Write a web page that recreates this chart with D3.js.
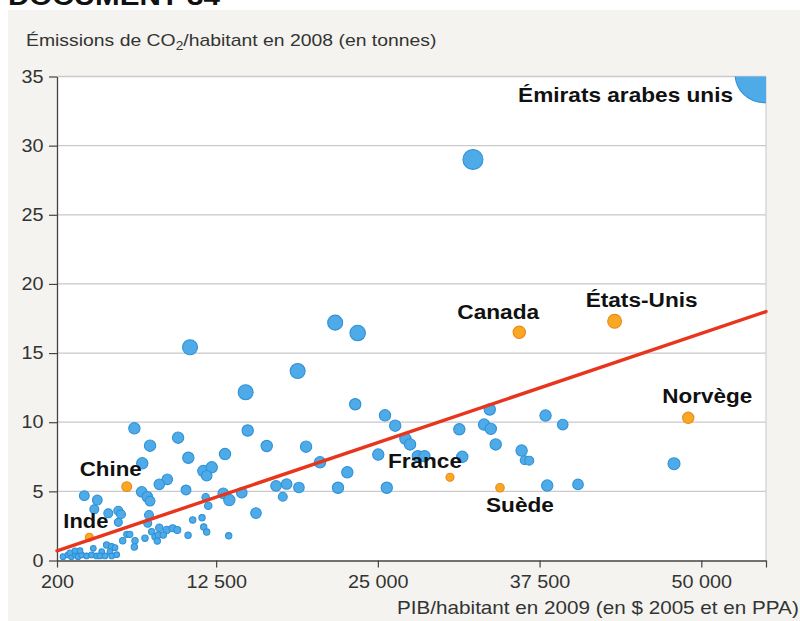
<!DOCTYPE html>
<html><head><meta charset="utf-8">
<script src="https://cdn.jsdelivr.net/npm/d3@7"></script>
<style>
body{margin:0;background:#fff}
svg{display:block}
text{font-family:"Liberation Sans",Arial,Helvetica,sans-serif}
</style>
</head><body>
<svg id="c" width="800" height="621"></svg>
<script>
// ---------- DATA ----------
const titreY = "Émissions de CO";
const titreYSuite = "/habitant en 2008 (en tonnes)";
const titreX = "PIB/habitant en 2009 (en $ 2005 et en PPA)";
const enTete = "DOCUMENT 34";

const xTicks = [200, 12500, 25000, 37500, 50000, 55000];
const xTickLabels = ["200", "12 500", "25 000", "37 500", "50 000", ""];
const yTicks = [0, 5, 10, 15, 20, 25, 30, 35];

// other countries (blue)
const nomsAutres = ["Émirats arabes unis"];
const pibAutres = [54850, 32350, 21700, 23440, 10480, 18800, 14780,
  23250, 25550, 26340, 6180, 9560, 14940, 7390, 16410, 19450, 10350, 13185, 6790, 20530,
  27130, 27490, 25030, 28090, 28600, 31295, 31525, 33650, 33210, 33730, 34110, 36110,
  36350, 36700, 37960, 39290, 38090, 40470, 47890, 22640, 21920, 25690, 17130, 17950,
  18900, 17650, 15580, 11510, 12160, 11770, 10170, 8725, 8107, 13050, 13520, 14480,
  6747, 7180, 7390, 2310, 3315, 3083, 4165, 4938, 5147, 4938, 7311, 7210, 8107, 8679,
  11690, 11890, 10690, 11410, 11540, 11770, 9140, 9500, 10330, 13470, 5600, 5820, 6229,
  5278, 7520, 7775, 8030, 8416, 7000, 7952, 4034, 4420, 3006, 3655, 4296, 4683,
  664, 1050, 1313, 1591, 1823, 2101, 2488, 2874, 3260, 3523, 3909, 4427, 4813,
  1205, 1591, 1978, 6180];
const co2Autres = [35.2, 29.0, 17.2, 16.45, 15.42, 13.7, 12.17,
  11.3, 10.5, 9.75, 9.56, 8.88, 9.40, 8.30, 8.28, 8.23, 7.43, 7.70, 7.03, 7.10,
  8.80, 8.39, 7.66, 7.54, 7.54, 9.49, 7.50, 10.92, 9.83, 9.52, 8.39, 7.95,
  7.25, 7.22, 10.48, 9.83, 5.42, 5.50, 7.00, 6.38, 5.26, 5.26, 5.39, 5.53,
  5.28, 4.61, 3.43, 6.47, 6.74, 6.13, 5.10, 5.87, 5.51, 4.86, 4.37, 4.90,
  4.97, 4.61, 4.30, 4.69, 4.37, 3.70, 3.41, 3.60, 3.34, 2.76, 3.29, 2.69, 2.37, 2.21,
  4.57, 3.96, 2.93, 3.09, 2.42, 2.06, 2.33, 2.21, 1.82, 1.79, 1.89, 1.89, 1.43,
  1.43, 2.08, 1.72, 1.84, 1.84, 1.61, 1.41, 1.12, 1.00, 0.88, 0.64, 0.64, 0.93,
  0.28, 0.40, 0.28, 0.45, 0.28, 0.40, 0.33, 0.40, 0.33, 0.33, 0.33, 0.33, 0.42,
  0.56, 0.70, 0.71, 0.98];
const poidsAutres = [210, 25, 14, 15, 14, 14, 14,
  8, 8, 8, 8, 8, 8, 8, 8, 8, 8, 8, 8, 8,
  8, 8, 8, 8, 8, 8, 8, 8, 8, 8, 8, 8,
  5, 5, 8, 7, 8, 7, 9, 8, 8, 8, 7, 7,
  7, 5, 7, 8, 8, 7, 6, 7, 7, 7, 8, 7,
  7, 7, 6, 6, 6, 5, 5, 5, 5, 4, 5, 4, 3.5, 3.5,
  3.5, 3.5, 2.5, 2.5, 2.5, 2.5, 3, 3, 2.5, 2.5, 2.5, 2.5, 2.5,
  2.5, 2.5, 2.5, 2.5, 2.5, 2.5, 2.5, 2.5, 2.5, 2, 2, 2, 2,
  2, 2, 2, 2, 2, 2, 2, 2, 2, 2, 2, 2, 2,
  2, 2, 2, 2.5];

// highlighted countries (orange)
const paysCles = ["Chine", "Inde", "France", "Suède", "Canada", "États-Unis", "Norvège"];
const pibCles = [5590, 2700, 30575, 34440, 35930, 43300, 48990];
const co2Cles = [5.34, 1.68, 6.02, 5.26, 16.5, 17.3, 10.32];
const poidsCles = [6, 4, 4, 4.5, 9.5, 12, 8];

// trend line (endpoints)
const tendanceX = [200, 55000];
const tendanceY = [0.70, 18.0];

// ---------- LAYOUT ----------
const labelLayout = {
  "Émirats arabes unis": {dx: -246, dy: 28, w: 215},
  "Canada": {dx: -62, dy: -13, w: 82},
  "États-Unis": {dx: -29, dy: -14, w: 112},
  "Norvège": {dx: -26, dy: -15, w: 90},
  "Chine": {dx: -47, dy: -11, w: 62},
  "Inde": {dx: -26, dy: -9, w: 45},
  "France": {dx: -62, dy: -9, w: 74},
  "Suède": {dx: -14, dy: 24, w: 68}
};

const svg = d3.select("#c");
const PL = 57, PR = 766, PT = 76.5, PB = 560.5;
const x = d3.scaleLinear().domain([200, 55000]).range([PL, PR]);
const y = d3.scaleLinear().domain([0, 35]).range([PB, PT]);
const r = d3.scaleSqrt().domain([0, 225]).range([0, 30]);

// backgrounds
svg.append("rect").attr("width", 800).attr("height", 621).attr("fill", "#ffffff");
svg.append("rect").attr("x", 8).attr("y", 10).attr("width", 792).attr("height", 611).attr("fill", "#f4f3ef");
svg.append("rect").attr("x", PL).attr("y", PT).attr("width", PR - PL).attr("height", PB - PT).attr("fill", "#ffffff");

function fit(sel, x0, y0, w) {
  const L = sel.node().getComputedTextLength();
  sel.attr("transform", `translate(${x0},${y0}) scale(${w / L},1)`);
  return sel;
}

// heading (cut off at the top, as in the scan)
fit(svg.append("text").text(enTete).attr("font-size", 25).attr("font-weight", "bold").attr("fill", "#111"), 8, 5, 212);

// title
const t = svg.append("text").attr("font-size", 17).attr("fill", "#333");
t.append("tspan").text(titreY);
t.append("tspan").text("2").attr("font-size", 12).attr("dy", 4);
t.append("tspan").text(titreYSuite).attr("dy", -4);
fit(t, 26, 46, 411);

// gridlines
svg.append("g").selectAll("line").data(yTicks.filter(d => d > 0)).join("line")
  .attr("x1", PL).attr("x2", PR).attr("y1", d => y(d)).attr("y2", d => y(d))
  .attr("stroke", "#c9c9ce").attr("stroke-width", 1.3);
svg.append("line").attr("x1", PR).attr("x2", PR).attr("y1", PT).attr("y2", PB)
  .attr("stroke", "#cfcfd3").attr("stroke-width", 1.2);

// axes
const fr = d3.formatLocale({decimal: ",", thousands: " ", grouping: [3], currency: ["", "$"]});
const gx = svg.append("g").attr("transform", `translate(0,${PB})`)
  .call(d3.axisBottom(x).tickValues(xTicks).tickFormat((d, i) => xTickLabels[i]).tickSize(7).tickPadding(7.5).tickSizeOuter(0));
const gy = svg.append("g").attr("transform", `translate(${PL},0)`)
  .call(d3.axisLeft(y).tickValues(yTicks).tickFormat(fr.format("d")).tickSize(8).tickPadding(4.3).tickSizeOuter(0));
[gx, gy].forEach(g => {
  g.select(".domain").attr("stroke", "#444").attr("stroke-width", 1.3);
  g.selectAll(".tick line").attr("stroke", "#444").attr("stroke-width", 1.2);
  g.selectAll(".tick text").attr("font-size", 18).attr("fill", "#333")
    .attr("font-family", '"Liberation Sans",Arial,sans-serif')
    .attr("transform", "scale(1.1,1)");
});

// x title
fit(svg.append("text").text(titreX).attr("font-size", 18).attr("fill", "#333"), 397, 614, 402);

// points
const clip = svg.append("clipPath").attr("id", "plotclip");
clip.append("rect").attr("x", PL).attr("y", PT).attr("width", PR - PL).attr("height", PB - PT);

const autres = pibAutres.map((v, i) => ({x: v, y: co2Autres[i], p: poidsAutres[i], nom: nomsAutres[i] || ""}));
const cles = pibCles.map((v, i) => ({x: v, y: co2Cles[i], p: poidsCles[i], nom: paysCles[i]}));

const gp = svg.append("g").attr("clip-path", "url(#plotclip)");
gp.selectAll("circle.b").data(autres).join("circle").attr("class", "b")
  .attr("cx", d => x(d.x)).attr("cy", d => y(d.y)).attr("r", d => r(d.p))
  .attr("fill", "#4fabe8").attr("stroke", "#2f92d6").attr("stroke-width", 1.1);

// trend line
svg.append("line")
  .attr("x1", x(tendanceX[0])).attr("y1", y(tendanceY[0]))
  .attr("x2", x(tendanceX[1])).attr("y2", y(tendanceY[1]))
  .attr("stroke", "#e8361e").attr("stroke-width", 3.4).attr("stroke-linecap", "round");

gp.selectAll("circle.o").data(cles).join("circle").attr("class", "o")
  .attr("cx", d => x(d.x)).attr("cy", d => y(d.y)).attr("r", d => r(d.p))
  .attr("fill", "#f8a823").attr("stroke", "#ec8916").attr("stroke-width", 1.1);

// labels
const labelled = autres.filter(d => d.nom).concat(cles);
labelled.forEach(d => {
  const L = labelLayout[d.nom];
  const tx = svg.append("text").text(d.nom).attr("font-size", 20).attr("font-weight", "bold").attr("fill", "#111");
  fit(tx, x(d.x) + L.dx, y(d.y) + L.dy, L.w);
});
</script>
</body></html>
